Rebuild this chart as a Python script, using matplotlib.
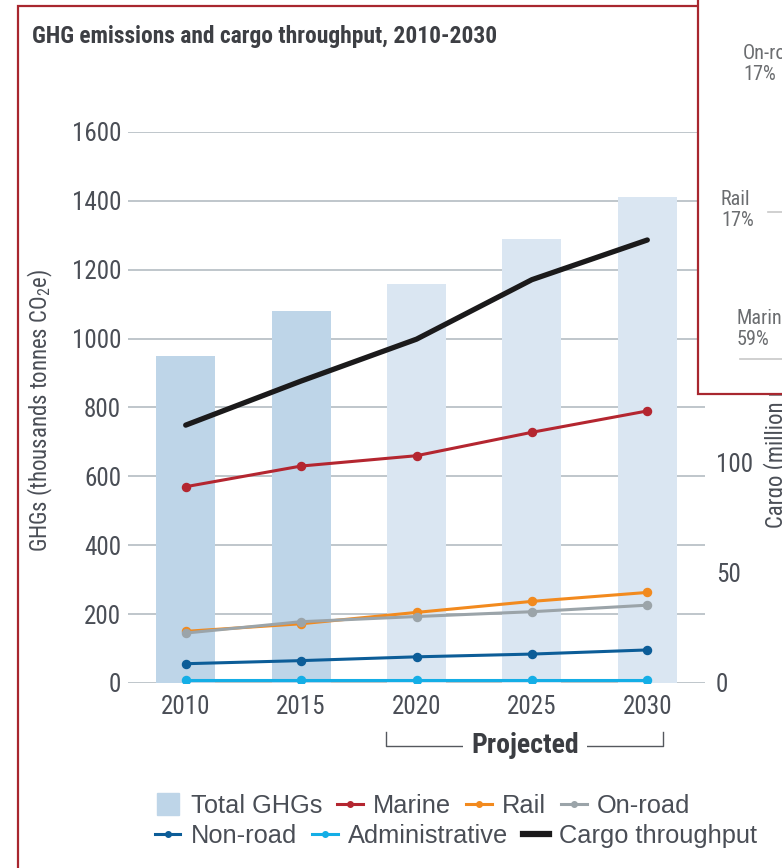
import matplotlib
matplotlib.use("Agg")
import matplotlib.pyplot as plt
import matplotlib.patches as mpatches
import matplotlib.transforms as mtransforms
import matplotlib.font_manager as fm
from matplotlib.lines import Line2D

# GHG emissions (thousand tonnes CO2e) and cargo throughput, 2010-2030
years = ['2010', '2015', '2020', '2025', '2030']
total_ghg = [950, 1080, 1160, 1290, 1410]
marine = [570, 630, 660, 728, 790]
rail = [150, 172, 205, 237, 263]
onroad = [145, 178, 193, 207, 226]
nonroad = [56, 65, 76, 84, 96]
admin = [10, 10, 10, 10, 10]
cargo = [117, 137, 156, 183, 201]   # million metric tons (right axis)
n_actual = 2                        # 2010, 2015 measured, rest projected

left_ticks = [0, 200, 400, 600, 800, 1000, 1200, 1400, 1600]
right_ticks = [0, 50, 100, 150, 200, 250]

# inset (pie panel behind, mostly off-canvas)
pie_labels = ['On-road\n17%', 'Rail\n17%', 'Marine\n59%']


def find_narrow():
    fl = fm.fontManager.ttflist
    names = {f.name for f in fl}
    for p in ['Liberation Sans Narrow', 'Roboto Condensed', 'Noto Sans Condensed',
              'DejaVu Sans Condensed', 'Open Sans Condensed', 'Arial Narrow']:
        if p in names:
            return p, 'normal'
    for f in fl:
        if ('Condensed' in f.name or 'Narrow' in f.name) and 'Mono' not in f.name \
                and 'Serif' not in f.name and 'CJK' not in f.name:
            return f.name, 'normal'
    for f in fl:
        if str(f.stretch) in ('condensed', 'semi-condensed', 'extra-condensed') and \
                f.name in ('DejaVu Sans', 'Noto Sans', 'Roboto', 'Open Sans', 'Lato', 'Inter'):
            return f.name, 'condensed'
    return 'Roboto', 'normal'


NARROW, STRETCH = find_narrow()
SANS = ['Liberation Sans', 'DejaVu Sans']
TXT = '#4a4e56'
RED = '#a8272f'

plt.rcParams['font.family'] = [NARROW, 'DejaVu Sans']
plt.rcParams['font.stretch'] = STRETCH
plt.rcParams['mathtext.fontset'] = 'custom'
plt.rcParams['mathtext.rm'] = NARROW
plt.rcParams['mathtext.it'] = NARROW

fig = plt.figure(figsize=(7.82, 8.68), dpi=100)
renderer = fig.canvas.get_renderer()


def fit(txt, target_w, weight='normal', base=20.0):
    # font size that gives the text the wanted width in pixels
    t = fig.text(0, 0, txt, fontsize=base, fontweight=weight)
    w = t.get_window_extent(renderer).width
    t.remove()
    return base * target_w / w


# the source face is narrower than ours, so go a bit above the width fit
tick_fs = fit('1600', 42) * 1.18
lab_fs = fit('GHGs (thousands tonnes CO$_2$e)', 257) * 1.1
title_fs = fit('GHG emissions and cargo throughput, 2010-2030', 415, 'bold') * 1.12
proj_fs = fit('Projected', 96, 'bold') * 1.12
pie_fs = fit('Rail', 22) * 1.35

ax = fig.add_axes([128/782, 1-683/868, 577/782, 551/868])

x = list(range(len(years)))
bar_cols = ['#bed5e8' if i < n_actual else '#dae6f2' for i in x]
ax.bar(x, total_ghg, width=0.51, color=bar_cols, zorder=2)

series = [
    (marine, '#b42630', 'Marine'),
    (rail, '#f28a1e', 'Rail'),
    (onroad, '#9ba4a9', 'On-road'),
    (nonroad, '#0c5d98', 'Non-road'),
    (admin, '#14aee6', 'Administrative'),
]
for vals, col, name in series:
    ax.plot(x, vals, color=col, lw=2.2, marker='o', ms=5.8, zorder=3)

ax.set_xlim(-0.5, 4.5)
ax.set_ylim(0, 1600)
ax.set_yticks(left_ticks)
ax.set_yticklabels([str(t) for t in left_ticks])
ax.set_xticks(x)
ax.set_xticklabels(years)
ax.yaxis.grid(True, color='#b4bcc2', lw=1.2)
ax.set_axisbelow(True)
for s in ax.spines.values():
    s.set_visible(False)
ax.tick_params(axis='y', length=0, pad=5, labelsize=tick_fs, labelcolor=TXT)
ax.tick_params(axis='x', length=0, pad=9, labelsize=tick_fs, labelcolor=TXT)
ax.set_ylabel('GHGs (thousands tonnes CO$_2$e)', fontsize=lab_fs, color=TXT)
ax.yaxis.set_label_coords(-0.127, 0.494)

ax2 = ax.twinx()
ax2.plot(x, cargo, color='#1b1a1b', lw=3.8, solid_capstyle='round', zorder=4)
ax2.set_ylim(0, 250)
ax2.set_yticks(right_ticks)
ax2.set_yticklabels([str(t) for t in right_ticks])
for s in ax2.spines.values():
    s.set_visible(False)
ax2.tick_params(axis='y', length=0, pad=8, labelsize=tick_fs, labelcolor=TXT)
ax2.set_ylabel('Cargo (million metric tons)', fontsize=lab_fs, color=TXT)
ax2.yaxis.set_label_coords(1.100, 0.5)

# "Projected" bracket under the x labels
tr = mtransforms.blended_transform_factory(ax.transData, ax.transAxes)
bl, br = 2 - 0.26, 4 + 0.14
ax.plot([bl, bl, br, br], [-0.089, -0.114, -0.114, -0.089], transform=tr,
        color='#55585e', lw=1.0, clip_on=False)
ax.text((bl + br) / 2, -0.114, 'Projected', transform=tr, ha='center', va='center',
        fontsize=proj_fs, fontweight='bold', color='#3b3d42',
        bbox=dict(facecolor='white', edgecolor='none', pad=6))

# legend, two flowing rows
h1 = [Line2D([], [], marker='s', ls='none', ms=16, color='#bed5e8')]
h1 += [Line2D([], [], color=c, lw=2.2, marker='o', ms=4) for _, c, _ in series[:3]]
l1 = ['Total GHGs'] + [nm for _, _, nm in series[:3]]
h2 = [Line2D([], [], color=c, lw=2.2, marker='o', ms=4) for _, c, _ in series[3:]]
h2 += [Line2D([], [], color='#1b1a1b', lw=4.5)]
l2 = [nm for _, _, nm in series[3:]] + ['Cargo throughput']

legkw = dict(frameon=False, handlelength=1.0, handletextpad=0.4, columnspacing=0.6,
             borderaxespad=0, borderpad=0, labelcolor=TXT,
             prop={'family': SANS, 'size': 18.3, 'stretch': 'normal'})
leg1 = fig.legend(h1, l1, loc='center left', ncol=4,
                  bbox_to_anchor=(155/782, 1-806/868), **legkw)
leg2 = fig.legend(h2, l2, loc='center left', ncol=3,
                  bbox_to_anchor=(155/782, 1-836/868), **legkw)

# outer panel frame
fig.add_artist(mpatches.Rectangle((18/782, -0.1), 1.2, 1 - 6/868 + 0.1,
                                  transform=fig.transFigure, fill=False,
                                  edgecolor=RED, lw=1.6, zorder=1))

# overlapping inset panel at top right
fig.add_artist(mpatches.Rectangle((698/782, 1-394/868), 0.3, 0.6,
                                  transform=fig.transFigure, facecolor='white',
                                  edgecolor=RED, lw=1.6, zorder=5))
pie_pos = [(743, 64), (721, 210), (737, 329)]
for lab, (px, py) in zip(pie_labels, pie_pos):
    fig.text(px/782, 1-py/868, lab, ha='left', va='center', fontsize=pie_fs,
             color='#6b6d70', linespacing=1.1, zorder=6)
fig.add_artist(Line2D([768/782, 1], [1-212/868]*2, transform=fig.transFigure,
                      color='#c8c8c8', lw=1.2, zorder=6))
fig.add_artist(Line2D([740/782, 1], [1-359/868]*2, transform=fig.transFigure,
                      color='#c8c8c8', lw=1.2, zorder=6))

fig.text(32/782, 1-37/868, 'GHG emissions and cargo throughput, 2010-2030',
         ha='left', va='center', fontsize=title_fs, fontweight='bold', color='#3d3f44')

fig.savefig('out.png', dpi=100, facecolor='white')
